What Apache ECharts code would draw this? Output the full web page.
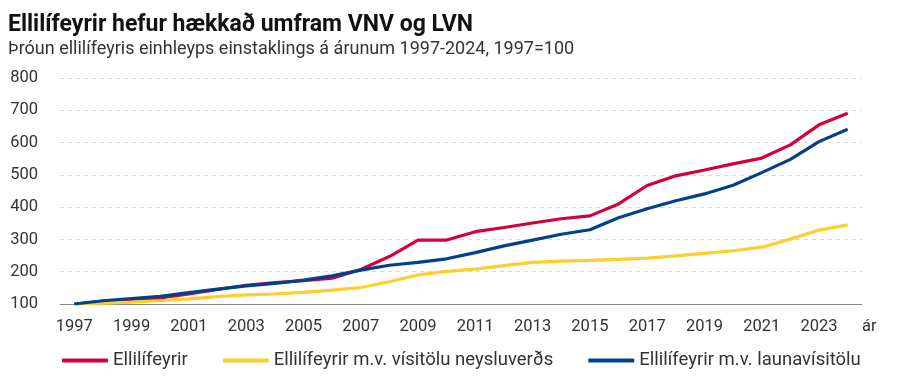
<!DOCTYPE html>
<html>
<head>
<meta charset="utf-8">
<script src="https://cdn.jsdelivr.net/npm/echarts@6/dist/echarts.min.js"></script>
<style>
  html, body { margin: 0; padding: 0; background: #fff; }
  #chart { width: 900px; height: 377px; }
</style>
</head>
<body>
<div id="chart"></div>
<script>
// ár 1997-2024
const years = [];
for (let y = 1997; y <= 2024; y++) years.push(String(y));

// Ellilífeyrir
const ellilifeyrir = [100, 108, 114, 119, 131, 145, 158, 166, 172, 180, 207, 247, 298, 298, 324, 337, 351, 364, 373, 410, 467, 497, 515, 534, 552, 593, 655, 691];
// m.v. vísitölu neysluverðs
const vnv = [100, 103, 106, 110, 116, 123, 128, 131, 136, 143, 151, 169, 190, 201, 208, 219, 229, 233, 235, 238, 242, 249, 257, 265, 276, 301, 329, 345];
// m.v. launavísitölu
const lvn = [100, 110, 117, 124, 135, 146, 156, 164, 174, 187, 205, 220, 229, 240, 259, 280, 298, 316, 330, 367, 395, 420, 441, 468, 507, 548, 603, 641];

const seriesNames = ["Ellilífeyrir", "Ellilífeyrir m.v. vísitölu neysluverðs", "Ellilífeyrir m.v. launavísitölu"];
const colors = ["#d4003c", "#fdcf2b", "#004189"];

const chart = echarts.init(document.getElementById("chart"));
const font = "Roboto, 'Noto Sans', sans-serif";

chart.setOption({
  animation: false,
  textStyle: { fontFamily: font },
  title: {
    text: "Ellilífeyrir hefur hækkað umfram VNV og LVN",
    subtext: "Þróun ellilífeyris einhleyps einstaklings á árunum 1997-2024, 1997=100",
    left: 3,
    top: 9,
    itemGap: 3,
    textStyle: { fontSize: 23, fontWeight: "bold", color: "#111", fontFamily: font },
    subtextStyle: { fontSize: 18, color: "#333", fontFamily: font }
  },
  legend: {
    top: 346,
    left: 57,
    itemGap: 35,
    itemWidth: 46,
    itemHeight: 4,
    icon: "roundRect",
    textStyle: { fontSize: 18.5, color: "#333" },
    data: seriesNames
  },
  grid: { left: 60, right: 38, top: 78, bottom: 73 },
  xAxis: {
    type: "category",
    data: years,
    boundaryGap: true,
    name: "ár",
    nameLocation: "end",
    nameGap: 0,
    nameTextStyle: { fontSize: 16.5, color: "#333", verticalAlign: "top", padding: [14, 0, 0, 0] },
    axisLine: { lineStyle: { color: "#888", width: 1 } },
    axisTick: { show: false },
    axisLabel: { interval: 1, fontSize: 16.5, color: "#333", margin: 14 }
  },
  yAxis: {
    type: "value",
    min: 100,
    max: 800,
    interval: 100,
    axisLine: { show: false },
    axisTick: { show: false },
    axisLabel: { fontSize: 16.5, color: "#333", margin: 22 },
    splitLine: { lineStyle: { color: "#d9d9d9", type: [4, 4] } }
  },
  series: [
    { name: seriesNames[0], data: ellilifeyrir },
    { name: seriesNames[1], data: vnv },
    { name: seriesNames[2], data: lvn }
  ].map((s, i) => ({
    ...s,
    type: "line",
    symbol: "none",
    color: colors[i],
    lineStyle: { width: 3.2, color: colors[i] },
    z: i === 2 ? 4 : 3
  }))
});
</script>
</body>
</html>
